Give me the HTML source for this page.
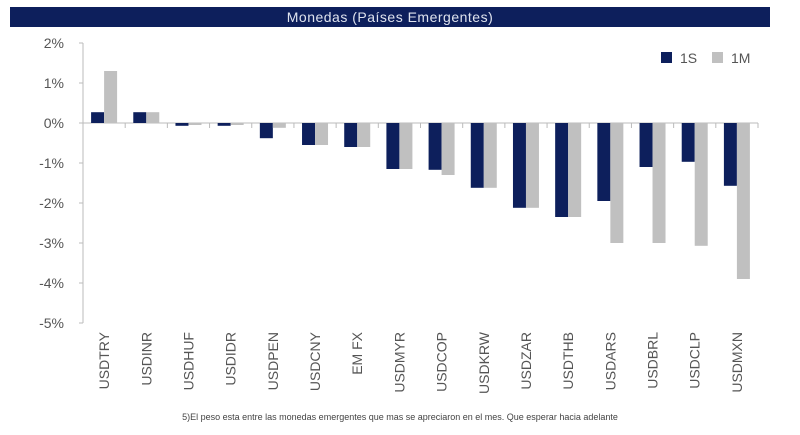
<!DOCTYPE html>
<html><head><meta charset="utf-8"><style>
body{margin:0;background:#fff;width:800px;height:430px;overflow:hidden;font-family:"Liberation Sans",sans-serif}
</style></head><body>
<svg width="800" height="430">
<rect x="10" y="7" width="760" height="20" fill="#0d1f5c"/>
<text x="390" y="22" text-anchor="middle" fill="#dfe3ee" font-size="14" letter-spacing="0.5">Monedas (Países Emergentes)</text>
<g id="plot"></g>
<g>
<rect x="661" y="52" width="11" height="11" fill="#0d1f5c"/>
<text x="680" y="63" font-size="14" fill="#555">1S</text>
<rect x="712" y="52" width="11" height="11" fill="#c0c0c0"/>
<text x="731" y="63" font-size="14" fill="#555">1M</text>
</g>
<text x="400" y="420" text-anchor="middle" font-size="9" fill="#444">5)El peso esta entre las monedas emergentes que mas se apreciaron en el mes. Que esperar hacia adelante</text>
</svg>
<script>
const categories=["USDTRY","USDINR","USDHUF","USDIDR","USDPEN","USDCNY","EM FX","USDMYR","USDCOP","USDKRW","USDZAR","USDTHB","USDARS","USDBRL","USDCLP","USDMXN"];
const s1S=[0.27,0.27,-0.07,-0.07,-0.38,-0.55,-0.6,-1.15,-1.17,-1.62,-2.12,-2.35,-1.95,-1.1,-0.97,-1.57];
const s1M=[1.3,0.27,-0.05,-0.05,-0.12,-0.55,-0.6,-1.15,-1.3,-1.62,-2.12,-2.35,-3.0,-3.0,-3.07,-3.9];
const yTicks=[2,1,0,-1,-2,-3,-4,-5];
const yTickLabels=["2%","1%","0%","-1%","-2%","-3%","-4%","-5%"];
const NS="http://www.w3.org/2000/svg";
const g=document.getElementById('plot');
const x0=83,x1=758,bw=(x1-x0)/categories.length;
function y(v){return 123-v*40;}
function xc(i){return x0+bw*(i+0.5);}
function mk(t,a){const e=document.createElementNS(NS,t);for(const k in a)e.setAttribute(k,a[k]);g.appendChild(e);return e;}
let ax=mk('line',{x1:x0,y1:y(2),x2:x0,y2:y(-5),stroke:'#bbb'});


yTicks.forEach((v,i)=>{
 const tk=mk('line',{x1:x0-4,y1:y(v),x2:x0,y2:y(v),stroke:'#bbb'});
 
 
 const t=mk('text',{x:64,y:y(v)+5,'text-anchor':'end','font-size':14,fill:'#555'});
 t.textContent=yTickLabels[i];
 
 
});
let xa=mk('line',{x1:x0,y1:y(0),x2:x1,y2:y(0),stroke:'#bbb'});


categories.forEach((c,i)=>{
 const tk=mk('line',{x1:x0+bw*(i+1),y1:y(0),x2:x0+bw*(i+1),y2:y(0)+5,stroke:'#bbb'});
 
 
 const cx=xc(i);
 [[s1S[i],'#0d1f5c',cx-13,'bar-1s'],[s1M[i],'#c0c0c0',cx,'bar-1m']].forEach(([v,col,bx,nm])=>{
  const r=mk('rect',{x:bx,y:Math.min(y(0),y(v)),width:13,height:Math.abs(y(v)-y(0)),fill:col});
  
  
 });
 const t=mk('text',{x:0,y:0,'text-anchor':'end','font-size':14,fill:'#555',transform:`translate(${cx+5},332) rotate(-90)`});
 t.textContent=c;
 
 
});
</script>
</body></html>
